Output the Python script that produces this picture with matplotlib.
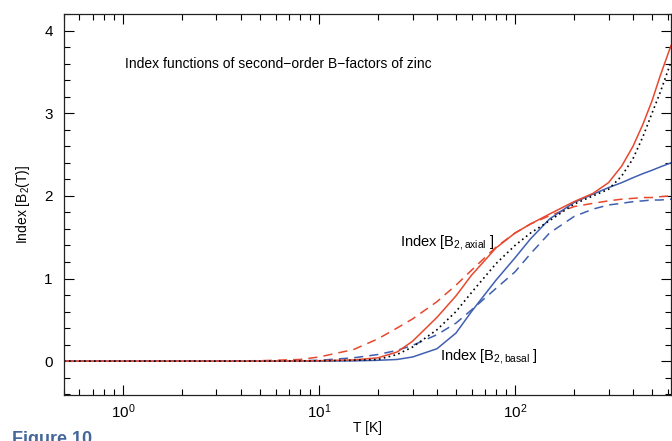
import matplotlib
matplotlib.use('Agg')
import matplotlib.pyplot as plt
import numpy as np

plt.rcParams['font.family'] = ['Liberation Sans', 'DejaVu Sans']
plt.rcParams['mathtext.fontset'] = 'custom'
plt.rcParams['mathtext.rm'] = 'Liberation Sans'
plt.rcParams['mathtext.it'] = 'Liberation Sans'

# temperature grid (K) and index curves
temp = [0.5, 2, 5, 8, 10, 15, 20, 25, 30, 40, 50, 60, 80, 100, 120, 150,
        200, 250, 300, 350, 400, 450, 500, 550, 625]
axial_solid = [0.0, 0.0, 0.0, 0.003, 0.005, 0.015, 0.04, 0.11, 0.24, 0.53,
               0.79, 1.04, 1.37, 1.55, 1.66, 1.78, 1.93, 2.03, 2.16, 2.36,
               2.6, 2.87, 3.15, 3.45, 3.82]
axial_dashed = [0.0, 0.0, 0.005, 0.02, 0.05, 0.14, 0.27, 0.40, 0.51, 0.72,
                0.92, 1.10, 1.38, 1.55, 1.66, 1.76, 1.87, 1.91, 1.94, 1.96,
                1.97, 1.98, 1.98, 1.99, 2.0]
basal_solid = [0.0, 0.0, 0.0, 0.0, 0.0, 0.003, 0.01, 0.02, 0.05, 0.15,
               0.34, 0.60, 0.98, 1.25, 1.48, 1.72, 1.92, 2.02, 2.10, 2.16,
               2.22, 2.27, 2.31, 2.35, 2.40]
basal_dashed = [0.0, 0.0, 0.002, 0.006, 0.01, 0.04, 0.08, 0.13, 0.19, 0.32,
                0.46, 0.62, 0.88, 1.08, 1.30, 1.55, 1.75, 1.84, 1.89, 1.91,
                1.93, 1.94, 1.95, 1.95, 1.96]
mean_dotted = [0.0, 0.0, 0.0, 0.002, 0.004, 0.01, 0.02, 0.08, 0.17, 0.38,
               0.60, 0.83, 1.18, 1.40, 1.55, 1.70, 1.90, 2.0, 2.08, 2.24,
               2.45, 2.72, 3.0, 3.25, 3.62]

red = '#e8482e'
blue = '#3f5fb0'

fig = plt.figure(figsize=(6.72, 4.41), dpi=100)
ax = fig.add_axes([0.0952, 0.1043, 0.9033, 0.8637])

ax.plot(temp, axial_dashed, color=red, lw=1.1, ls=(0, (6, 4)))
ax.plot(temp, basal_dashed, color=blue, lw=1.1, ls=(0, (6, 4)))
ax.plot(temp, basal_solid, color=blue, lw=1.1)
ax.plot(temp, axial_solid, color=red, lw=1.1)
ax.plot(temp, mean_dotted, color='black', lw=1.2, ls=(0, (1, 2)))

ax.set_xscale('log')
ax.set_xlim(0.5, 625)
ax.set_ylim(-0.41, 4.2)
ax.set_yticks([0, 1, 2, 3, 4])
ax.set_yticks(np.arange(-0.4, 4.21, 0.2), minor=True)
ax.tick_params(which='both', direction='in', top=True, right=True,
               labelsize=11, width=0.8)
ax.tick_params(which='major', length=7.5)
ax.tick_params(axis='x', which='major', pad=5)
ax.tick_params(axis='y', which='major', pad=8)
ax.tick_params(which='minor', length=4)
for sp in ax.spines.values():
    sp.set_linewidth(0.9)
    sp.set_color('#222222')

ax.set_xlabel('T [K]', fontsize=10, labelpad=0)
ax.set_ylabel('Index [B$_2$(T)]', fontsize=10, labelpad=9)

ax.text(1.03, 3.6, 'Index functions of second\u2212order B\u2212factors of zinc',
        fontsize=10, va='center', ha='left')
ax.text(25.8, 1.44, 'Index [B$_{2,\\mathrm{axial}}$ ]', fontsize=10.5,
        va='center', ha='left')
ax.text(41.3, 0.06, 'Index [B$_{2,\\mathrm{basal}}$ ]', fontsize=10.5,
        va='center', ha='left')

fig.text(0.018, 0.022, 'Figure 10', fontsize=13, fontweight='bold',
         color='#45679a', va='top', ha='left')

fig.savefig('out.png', dpi=100)
